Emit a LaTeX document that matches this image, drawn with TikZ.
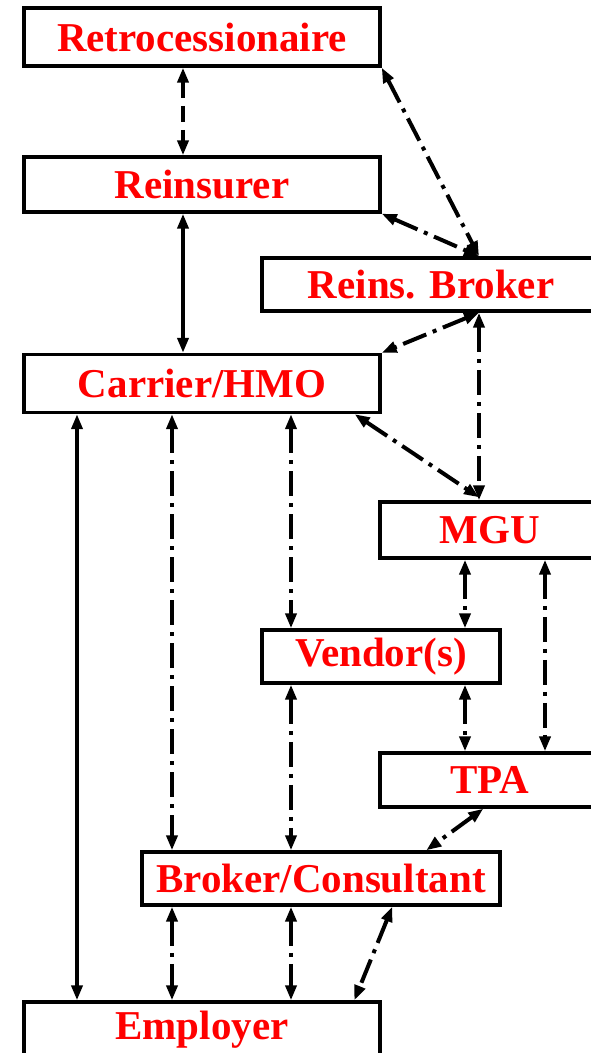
\documentclass[tikz,border=0pt]{standalone}
\usepackage{fontspec}
\setmainfont{Liberation Serif}
\usepackage{xcolor}
\usepackage{tikz}
\usetikzlibrary{
	arrows.meta,
	calc,
	positioning
}

\tikzset{
	party/.style={draw, line width=1.7pt, inner sep=0pt, text=red,
		font=\fontsize{20.5}{24}\selectfont\bfseries},
	link/.style={line width=2pt, {Triangle[length=7.5pt,width=5.5pt]}-{Triangle[length=7.5pt,width=5.5pt]}},
	dashlink/.style={link, dash pattern=on 8pt off 4pt},
	dotlink/.style={link, dash pattern=on 12.5pt off 3.5pt on 2pt off 3.5pt}
}

\begin{document}
\begin{tikzpicture}[x=0.5pt, y=-0.5pt]
		\useasboundingbox (0,0) rectangle (590,1053);
		% the parties
		\node[party, minimum width=178pt, minimum height=29pt] (retro) at (202,37) {Retrocessionaire};
		\node[party, minimum width=178pt, minimum height=27.5pt] (reins) at (202,184.5) {Reinsurer};
		\node[party, minimum width=169pt, minimum height=26.5pt] (rbroker) at (431,284.5) {Reins. Broker};
		\node[party, minimum width=178pt, minimum height=29pt] (carrier) at (202,383.5) {Carrier/HMO};
		\node[party, minimum width=110pt, minimum height=28pt] (mgu) at (490,530) {MGU};
		\node[party, minimum width=119pt, minimum height=26.5pt] (vendor) at (381,656.5) {Vendor(s)};
		\node[party, minimum width=110pt, minimum height=27pt] (tpa) at (490,780) {TPA};
		\node[party, minimum width=179pt, minimum height=26.5pt] (bconsult) at (321,878.5) {Broker/Consultant};
		\node[party, minimum width=178pt, minimum height=28pt] (employer) at (202,1030) {Employer};
		% columns of the vertical links
		\coordinate (cA) at (77,0);
		\coordinate (cB) at (172,0);
		\coordinate (cC) at (183,0);
		\coordinate (cD) at (291,0);
		\coordinate (cE) at (465,0);
		\coordinate (cF) at (479,0);
		\coordinate (cG) at (545,0);
		% links
		\draw[dashlink] (retro.south -| cC) -- (reins.north -| cC);
		\draw[link] (reins.south -| cC) -- (carrier.north -| cC);
		\draw[dotlink] (retro.south east) -- (rbroker.north -| cF);
		\draw[dotlink] (reins.south east) -- (rbroker.north -| cF);
		\draw[dotlink] (rbroker.south -| cF) -- (carrier.north east);
		\draw[dotlink] (rbroker.south -| cF) -- (mgu.north -| cF);
		\draw[dotlink] ($(carrier.south east)+(-27,0)$) -- ($(mgu.north -| cF)+(0,-3)$);
		\draw[link] (carrier.south -| cA) -- (employer.north -| cA);
		\draw[dotlink] (carrier.south -| cB) -- (bconsult.north -| cB);
		\draw[dotlink] (carrier.south -| cD) -- (vendor.north -| cD);
		\draw[dotlink] (mgu.south -| cE) -- (vendor.north -| cE);
		\draw[dotlink] (mgu.south -| cG) -- (tpa.north -| cG);
		\draw[dotlink] (vendor.south -| cE) -- (tpa.north -| cE);
		\draw[dotlink] (vendor.south -| cD) -- (bconsult.north -| cD);
		\draw[dotlink] ($(tpa.south west)+(105,0)$) -- ($(bconsult.north west)+(286,0)$);
		\draw[dotlink] (bconsult.south -| cB) -- (employer.north -| cB);
		\draw[dotlink] (bconsult.south -| cD) -- (employer.north -| cD);
		\draw[dotlink] ($(bconsult.south west)+(252,0)$) -- ($(employer.north west)+(332,0)$);
	\end{tikzpicture}
\end{document}
